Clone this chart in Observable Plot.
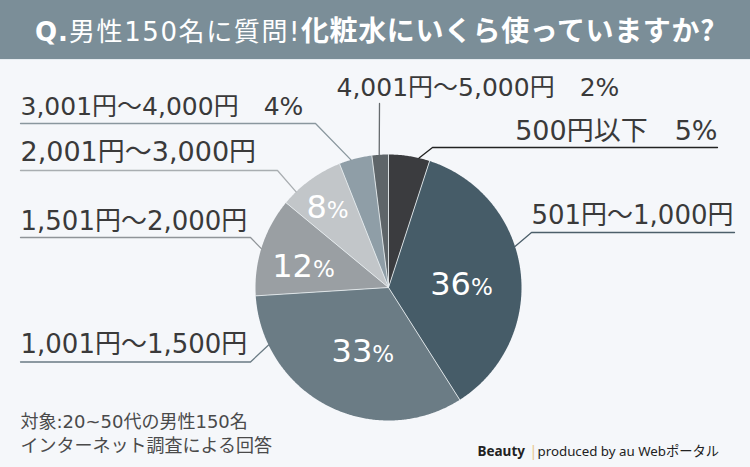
<!DOCTYPE html>
<html>
<head>
<meta charset="utf-8">
<script src="https://cdn.jsdelivr.net/npm/d3@7"></script>
<script src="https://cdn.jsdelivr.net/npm/@observablehq/plot@0.6"></script>
<style>
  html, body { margin: 0; padding: 0; background: #f5f7fa; }
  #wrap { width: 750px; height: 467px; overflow: hidden; background: #f5f7fa; }
  #header {
    height: 59px; line-height: 58px; background: #7b8e98; color: #fff;
    border-bottom: 1px solid #e6ecf0;
    text-align: center; white-space: nowrap;
    font-family: "DejaVu Sans", "Noto Sans CJK JP", sans-serif;
  }
  #header .q { font-size: 26px; font-weight: 700; letter-spacing: 1px; }
  #header .a { font-size: 26px; font-weight: 400; letter-spacing: 1.6px; }
  #header .b { font-size: 28px; font-weight: 700; font-family: "Noto Sans CJK JP", sans-serif; letter-spacing: 0.6px; }
  svg { display: block; }
</style>
</head>
<body>
<div id="wrap">
  <div id="header"></div>
  <div id="chart"></div>
</div>
<script>
// ---- data ----
const titleParts = ["Q.", "男性150名に質問!", "化粧水にいくら使っていますか?"];
const categories = ["500円以下", "501円～1,000円", "1,001円～1,500円", "1,501円～2,000円", "2,001円～3,000円", "3,001円～4,000円", "4,001円～5,000円"];
const shares = [5, 36, 33, 12, 8, 4, 2];
const sliceColors = ["#3b3c3f", "#465c68", "#6b7c85", "#9a9fa3", "#c2c6c9", "#8f9ea7", "#5e6569"];
const leaderColors = ["#222222", "#4c5f6a", "#6a7b84", "#8f9498", "#a9aeb1", "#8a979e", "#666b6e"];
const noteLines = ["対象:20~50代の男性150名", "インターネット調査による回答"];
const creditBrand = "Beauty";
const creditText = "produced by au Webポータル";

// ---- layout (positions / sizes) ----
const CX = 388, CY = 287, R = 133;
const labelLayout = [
  {angle: 13.3,  elbow: [432, 147],   end: 717, tx: 717, ty: 139, anchor: "end",   size: 27},
  {angle: 72,    elbow: [531, 232],   end: 734, tx: 733, ty: 223, anchor: "end",   size: 26},
  {angle: 244.4, elbow: [250, 361.5], end: 20,  tx: 20,  ty: 352, anchor: "start", size: 26},
  {angle: 287,   elbow: [250, 237],   end: 20,  tx: 20,  ty: 229, anchor: "start", size: 26},
  {angle: 316,   elbow: [277, 170],   end: 20,  tx: 20,  ty: 160, anchor: "start", size: 27},
  {angle: 343.6, elbow: [315, 123],   end: 20,  tx: 20,  ty: 114, anchor: "start", size: 25},
  {angle: 356,   elbow: [379, 103],   end: 379, tx: 336, ty: 95,  anchor: "start", size: 25}
];
const pctLayout = {36: {r: 75, dx: 8, dy: 17}, 33: {r: 60, dx: 11, dy: 21}, 12: {r: 90, dx: 10, dy: 17}, 8: {r: 105, dx: 0, dy: 15}};

// header
const hdr = document.getElementById("header");
hdr.innerHTML = `<span class="q">${titleParts[0]}</span><span class="a">${titleParts[1]}</span><span class="b">${titleParts[2]}</span>`;

const FONT = "'DejaVu Sans', 'Noto Sans CJK JP', sans-serif";

// pie geometry from data
const pie = d3.pie().sort(null).value(d => d.share).startAngle(0).endAngle(2 * Math.PI);
const rows = categories.map((c, i) => ({cat: c, share: shares[i], color: sliceColors[i], lcolor: leaderColors[i], lay: labelLayout[i]}));
const arcs = pie(rows);
const pt = (a, r) => ({x: CX + r * Math.sin(a), y: CY - r * Math.cos(a)});

const sliceMarks = arcs.map(a => {
  const pts = [pt(0, 0)];
  const n = Math.max(4, Math.ceil((a.endAngle - a.startAngle) / (Math.PI / 360)));
  for (let k = 0; k <= n; k++) pts.push(pt(a.startAngle + (a.endAngle - a.startAngle) * k / n, R));
  pts.push(pt(0, 0));
  return Plot.line(pts, {x: "x", y: "y", fill: a.data.color, stroke: "none", curve: "linear"});
});

const sepMarks = arcs.map(a => Plot.line([pt(0, 0), pt(a.startAngle, R)], {x: "x", y: "y", stroke: "#e9eef1", strokeWidth: 1, strokeOpacity: 0.85}));

const leaderMarks = rows.map(r => {
  const e = pt(r.lay.angle * Math.PI / 180, R);
  const pts = [e, {x: r.lay.elbow[0], y: r.lay.elbow[1]}, {x: r.lay.end, y: r.lay.elbow[1]}];
  return Plot.line(pts, {x: "x", y: "y", stroke: r.lcolor, strokeWidth: 1.3});
});

const labelRows = rows.map(r => ({...r, text: r.share < 8 ? `${r.cat}　${r.share}%` : r.cat}));

const labelMarks = ["start", "end"].map(anchor =>
  Plot.text(labelRows.filter(r => r.lay.anchor === anchor), {
    x: r => r.lay.tx, y: r => r.lay.ty, text: "text", fontSize: r => r.lay.size,
    textAnchor: anchor, lineAnchor: "bottom", fill: "#3a3a3a", fontFamily: FONT
  })
);

const pctRows = arcs.filter(a => pctLayout[a.data.share]).map(a => {
  const L = pctLayout[a.data.share];
  const p = pt((a.startAngle + a.endAngle) / 2, L.r);
  return {num: String(a.data.share), x: p.x + L.dx, y: p.y + L.dy};
});

const pctMarks = [
  Plot.text(pctRows, {x: "x", y: "y", text: "num", textAnchor: "end", lineAnchor: "bottom", fontSize: 32, fill: "#ffffff", fontFamily: FONT}),
  Plot.text(pctRows, {x: "x", y: "y", text: () => "%", textAnchor: "start", lineAnchor: "bottom", fontSize: 23, fill: "#ffffff", fontFamily: FONT})
];

const noteMarks = [
  Plot.text(noteLines, {x: () => 20, y: (d, i) => 427 + i * 24, text: d => d, textAnchor: "start", lineAnchor: "bottom", fontSize: 18, fill: "#4a4a4a", fontFamily: FONT}),
  Plot.text([creditBrand], {x: () => 477, y: () => 455, text: d => d, textAnchor: "start", lineAnchor: "bottom", fontSize: 13.5, fontWeight: 700, fill: "#222", fontFamily: "'Noto Sans', 'Noto Sans CJK JP', sans-serif"}),
  Plot.text(["|"], {x: () => 529, y: () => 455, text: d => d, textAnchor: "start", lineAnchor: "bottom", fontSize: 14, fill: "#e8c58a", fontFamily: "'Noto Sans', sans-serif"}),
  Plot.text([creditText], {x: () => 537, y: () => 455, text: d => d, textAnchor: "start", lineAnchor: "bottom", fontSize: 13.3, fill: "#222", fontFamily: "'Noto Sans', 'Noto Sans CJK JP', sans-serif"})
];

const chart = Plot.plot({
  width: 750, height: 407,
  margin: 0,
  x: {domain: [0, 750], range: [0, 750], axis: null},
  y: {domain: [60, 467], range: [0, 407], axis: null},
  style: {background: "#f5f7fa", overflow: "visible"},
  marks: [...sliceMarks, ...sepMarks, ...leaderMarks, ...labelMarks, ...pctMarks, ...noteMarks]
});
document.getElementById("chart").appendChild(chart);
</script>
</body>
</html>
